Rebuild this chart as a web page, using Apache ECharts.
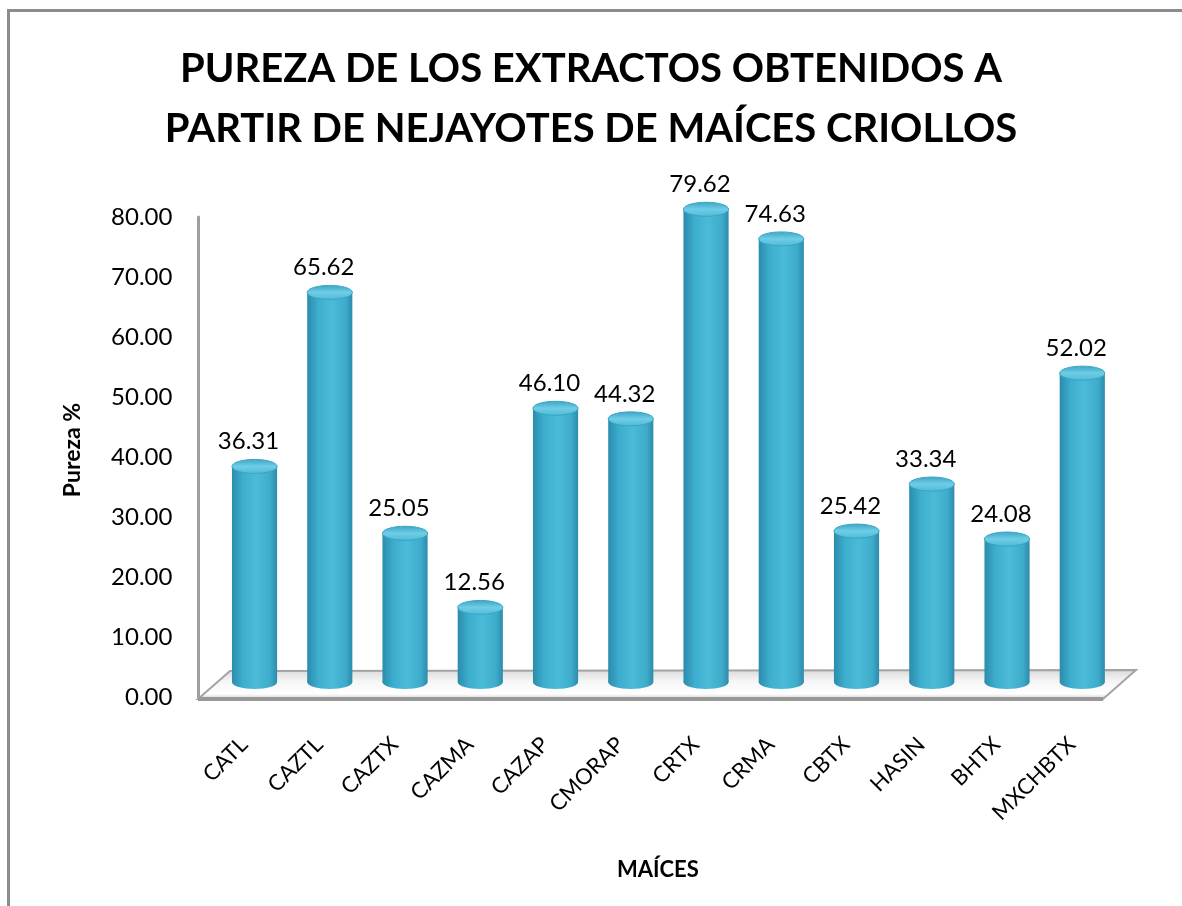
<!DOCTYPE html>
<html lang="es">
<head>
<meta charset="UTF-8">
<title>Pureza de los extractos</title>
<script src="https://cdn.jsdelivr.net/npm/echarts@6/dist/echarts.min.js"></script>
<style>
  html, body { margin: 0; padding: 0; background: #fff; }
  #main { width: 1182px; height: 906px; }
</style>
</head>
<body>
<div id="main"></div>
<script>
// datos
var maices = ['CATL', 'CAZTL', 'CAZTX', 'CAZMA', 'CAZAP', 'CMORAP', 'CRTX', 'CRMA', 'CBTX', 'HASIN', 'BHTX', 'MXCHBTX'];
var pureza = [36.31, 65.62, 25.05, 12.56, 46.10, 44.32, 79.62, 74.63, 25.42, 33.34, 24.08, 52.02];
var ticksY = [0, 10, 20, 30, 40, 50, 60, 70, 80];

var FONT = 'Lato, "Open Sans", sans-serif';
var chart = echarts.init(document.getElementById('main'));

// cilindro 3D simple
function cilindro(params, api) {
    var i = api.value(0), v = api.value(1);
    var top = api.coord([i, v]);
    var base = api.coord([i, 0]);
    var rx = api.size([1, 0])[0] * 0.3;
    var ry = 7;
    var cuerpo = new echarts.graphic.LinearGradient(0, 0, 1, 0, [
        {offset: 0, color: '#2a8cac'},
        {offset: 0.25, color: '#3eaecf'},
        {offset: 0.55, color: '#4bbbd8'},
        {offset: 0.85, color: '#3eabcb'},
        {offset: 1, color: '#2d8bab'}
    ]);
    var tapa = new echarts.graphic.LinearGradient(0, 0, 0, 1, [
        {offset: 0, color: '#3aa4c4'},
        {offset: 0.5, color: '#6fcde6'},
        {offset: 1, color: '#4dbad8'}
    ]);
    return {
        type: 'group',
        children: [
            {type: 'ellipse', shape: {cx: base[0], cy: base[1], rx: rx, ry: ry}, style: {fill: cuerpo}},
            {type: 'rect', shape: {x: base[0] - rx, y: top[1], width: rx * 2, height: base[1] - top[1]}, style: {fill: cuerpo}},
            {type: 'ellipse', shape: {cx: top[0], cy: top[1], rx: rx, ry: ry}, style: {fill: tapa, stroke: '#3aa3c3', lineWidth: 1}},
            {type: 'text', style: {text: v.toFixed(2), x: top[0] - 6, y: top[1] - 25, align: 'center', verticalAlign: 'middle',
                font: '24px ' + FONT, fill: '#000'}}
        ]
    };
}

chart.setOption({
    animation: false,
    title: {
        text: 'PUREZA DE LOS EXTRACTOS OBTENIDOS A\nPARTIR DE NEJAYOTES DE MAÍCES CRIOLLOS',
        left: 'center',
        top: 34,
        textStyle: {fontFamily: FONT, fontWeight: 'bold', fontSize: 40, lineHeight: 60, color: '#000'}
    },
    grid: [
        {left: 206.4, right: 72.6, top: 217, bottom: 209},
        {left: 216.9, right: 62.1, top: 207, bottom: 224}
    ],
    xAxis: [
        {
            type: 'category', gridIndex: 0, data: maices,
            name: 'MAÍCES', nameLocation: 'middle', nameGap: 162,
            nameTextStyle: {fontFamily: FONT, fontWeight: 'bold', fontSize: 22, color: '#000'},
            axisLine: {show: false}, axisTick: {show: false},
            axisLabel: {rotate: 45, margin: 44, fontFamily: FONT, fontSize: 22, color: '#000', interval: 0}
        },
        {type: 'category', gridIndex: 1, data: maices, show: false}
    ],
    yAxis: [
        {
            type: 'value', gridIndex: 0, min: 0, max: 80, interval: 10, offset: 8,
            name: 'Pureza %', nameLocation: 'middle', nameGap: 114,
            nameTextStyle: {fontFamily: FONT, fontWeight: 'bold', fontSize: 23, color: '#000', padding: [0, 0, 0, 14]},
            axisLine: {show: true, lineStyle: {color: '#9e9e9e', width: 3}},
            axisTick: {show: false}, splitLine: {show: false},
            axisLabel: {margin: 26, fontFamily: FONT, fontSize: 24, color: '#000',
                formatter: function (v) { return ticksY.indexOf(v) >= 0 ? v.toFixed(2) : ''; }}
        },
        {type: 'value', gridIndex: 1, min: 0, max: 80, show: false}
    ],
    graphic: [
        // marco
        {type: 'polyline', z: 0, shape: {points: [[8.5, 906], [8.5, 10.5], [1182, 10.5]]},
            style: {stroke: '#8c8c8c', lineWidth: 3, fill: null}},
        // piso
        {type: 'polygon', z: 0,
            shape: {points: [[198, 699], [1103, 699], [1136, 670], [230, 671]]},
            style: {
                fill: new echarts.graphic.LinearGradient(0, 0, 0, 1, [
                    {offset: 0, color: '#d8d8d8'},
                    {offset: 0.4, color: '#f6f6f6'},
                    {offset: 0.8, color: '#ffffff'},
                    {offset: 1, color: '#c8c8c8'}
                ]),
                stroke: '#a4a4a4', lineWidth: 2
            }},
        {type: 'line', z: 0, shape: {x1: 198, y1: 699, x2: 1103, y2: 699},
            style: {stroke: '#999', lineWidth: 4}}
    ],
    series: [{
        type: 'custom',
        xAxisIndex: 1, yAxisIndex: 1,
        renderItem: cilindro,
        encode: {x: 0, y: 1},
        data: pureza.map(function (v, i) { return [i, v]; }),
        z: 5
    }]
});
</script>
</body>
</html>
